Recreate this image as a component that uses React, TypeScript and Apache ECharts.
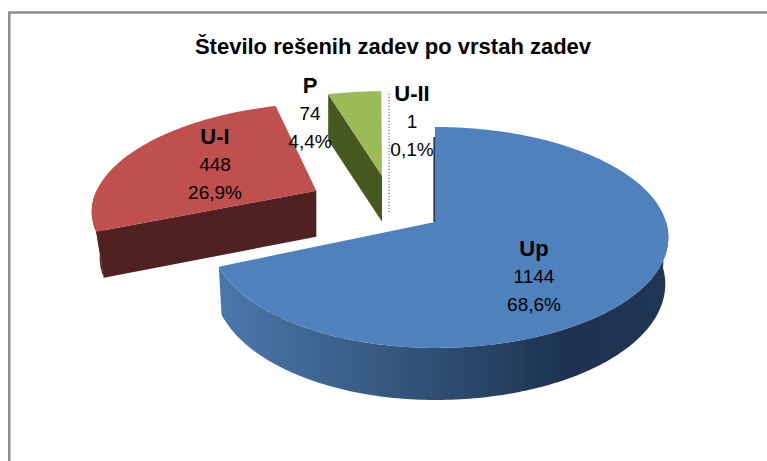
import React, { useEffect, useRef } from "react";
import * as echarts from "echarts";

const categories = ["Up", "U-I", "P", "U-II"];
const values = [1144, 448, 74, 1];
const topColors = ["#4F81BD", "#C0504D", "#9BBB59", "#8064A2"];
const sideColors = ["#1F3350", "#4F2120", "#48591F", "#8064A2"];
const titleText = "Število rešenih zadev po vrstah zadev";

const total = values.reduce((a, b) => a + b, 0);
const CX = 435, CY = 222, RY = 108.3, K = 0.14;
const rxRight = [231, 229, 231, 231];
const rxLeft = [222, 229, 231, 231];
const explode = [[0, 0], [-0.54, -0.3], [-0.244, -0.453], [-0.207, -0.42]];
const ownAxis = [false, false, true, true];
const depths = [46, 46, 46, 34];
const nearGrow = [0.048, 0, 0, 0];
const bottomShrink = [0.987, 0.965, 1, 1];
const labelPos = [[534, 248], [215, 136], [310, 85], [412, 93]];

function project(i: number, du: number, dv: number) {
  const u = explode[i][0] + du;
  const v = explode[i][1] + dv;
  const s = 1 / (1 - K * v);
  const rx = du < 0 ? rxLeft[i] : rxRight[i];
  const x = ownAxis[i]
    ? CX + rx * (explode[i][0] / (1 - K * explode[i][1]) + du * s)
    : CX + (u < 0 ? rxLeft[i] : rxRight[i]) * u * s;
  return [x, CY + RY * v * s];
}
function apex(i: number) {
  return project(i, 0, 0);
}
function bottom(i: number, p: number[]) {
  const ax = apex(i)[0];
  return [ax + (p[0] - ax) * bottomShrink[i], p[1] + depths[i] + nearGrow[i] * (p[1] - CY)];
}
function sliceStart(i: number) {
  let acc = 0;
  for (let k = 0; k < i; k++) acc += values[k];
  return (acc / total) * 360;
}
function rim(i: number, deg: number) {
  const r = (deg * Math.PI) / 180;
  return project(i, Math.sin(r), -Math.cos(r));
}
function arc(i: number, a: number, b: number) {
  const pts: number[][] = [];
  const n = Math.max(1, Math.ceil(Math.abs(b - a)));
  for (let j = 0; j <= n; j++) pts.push(rim(i, a + ((b - a) * j) / n));
  return pts;
}

const renderSlice = (params: any, api: any) => {
  const i = params.dataIndex;
  const v = api.value(0);
  const a0 = sliceStart(i);
  const a1 = a0 + (v / total) * 360;
  const children: any[] = [];
  const p0 = apex(i);
  if (categories[i] === "U-II") {
    const a = rim(i, a0);
    children.push({
      type: "polyline",
      shape: { points: [a, [a[0], bottom(i, p0)[1]]] },
      style: { stroke: topColors[i], lineWidth: 1.5, lineDash: [1, 2], fill: "none" },
    });
    return { type: "group", children };
  }
  const w0 = Math.max(a0, 90), w1 = Math.min(a1, 270);
  if (w1 > w0) {
    const t = arc(i, w0, w1);
    const b = t.map((p) => bottom(i, p)).reverse();
    const fill = i === 0
      ? new echarts.graphic.LinearGradient(0, 0, 1, 0, [
          { offset: 0, color: "#4A78AC" },
          { offset: 0.38, color: "#35587F" },
          { offset: 0.78, color: "#1D3250" },
          { offset: 1, color: "#1F3654" },
        ])
      : sideColors[i];
    children.push({ type: "polygon", shape: { points: t.concat(b) }, style: { fill } });
  }
  const s = rim(i, a0);
  children.push({
    type: "polygon",
    shape: { points: [p0, s, bottom(i, s), bottom(i, p0)] },
    style: { fill: sideColors[i] },
  });
  if (i === 0) {
    children.push({
      type: "polyline",
      shape: { points: [[s[0] - 0.8, s[1] + 10], [p0[0] - 0.8, p0[1]]] },
      style: { stroke: sideColors[0], lineWidth: 1.6, fill: "none" },
    });
  }
  children.push({
    type: "polygon",
    shape: { points: [p0].concat(arc(i, a0, a1)) },
    style: { fill: topColors[i] },
  });
  return { type: "group", children };
};

const renderLabel = (params: any, api: any) => {
  const i = params.dataIndex;
  const v = api.value(0);
  const [x, y] = labelPos[i];
  const pct = ((v / total) * 100).toFixed(1).replace(".", ",") + "%";
  const line = (text: string, dy: number, bold: boolean) => ({
    type: "text",
    x,
    y: y + dy,
    style: {
      text,
      align: "center",
      verticalAlign: "middle",
      fill: "#000",
      fontFamily: "Liberation Sans",
      fontWeight: bold ? "bold" : "normal",
      fontSize: bold ? 22 : 19,
    },
  });
  return {
    type: "group",
    children: [line(categories[i], 0, true), line(String(v), 28, false), line(pct, 56, false)],
  };
};

export default function App() {
  const ref = useRef<HTMLDivElement>(null);
  useEffect(() => {
    document.body.style.margin = "0";
    const chart = echarts.init(ref.current!, null, { renderer: "svg" });
    const data = categories.map((name, i) => ({ name, value: [values[i]] }));
    chart.setOption({
      animation: false,
      backgroundColor: "#fff",
      title: {
        text: titleText,
        left: 388,
        top: 30,
        textAlign: "center",
        textStyle: { fontFamily: "Liberation Sans", fontWeight: "bold", fontSize: 22, color: "#000" },
      },
      graphic: [
        {
          type: "rect",
          shape: { x: 9.3, y: 12.5, width: 800, height: 600 },
          style: { fill: "none", stroke: "#8C8C8C", lineWidth: 2.5 },
          silent: true,
        },
      ],
      series: [
        { type: "custom", coordinateSystem: "none", silent: true, data, renderItem: renderSlice },
        { type: "custom", coordinateSystem: "none", silent: true, z: 5, data, renderItem: renderLabel },
      ],
    });
    return () => chart.dispose();
  }, []);
  return <div ref={ref} style={{ width: 767, height: 461 }} />;
}
